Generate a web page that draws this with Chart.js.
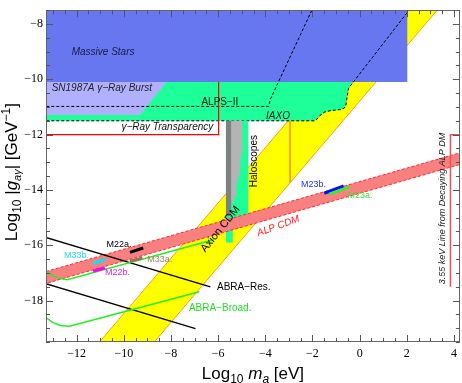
<!DOCTYPE html>
<html><head><meta charset="utf-8">
<script src="https://cdn.jsdelivr.net/npm/chart.js@4.4.1/dist/chart.umd.min.js"></script>
<style>html,body{margin:0;padding:0;background:#fff}canvas{display:block}</style>
</head><body>
<canvas id="c" width="462" height="383"></canvas>
<script>
// ---------- tick labels ----------
const xTicks = [-12,-10,-8,-6,-4,-2,0,2,4];
const yTicks = [-18,-16,-14,-12,-10,-8];

// ---------- excluded / projected regions (log10 m [eV], log10 g [GeV^-1]) ----------
const massiveStars = [[-13.5,-10.1],[2.02,-10.1],[2.02,-7],[-13.5,-7]];
const sn1987a      = [[-13.5,-10.1],[-8.19,-10.1],[-9.32,-11.29],[-13.5,-11.29]];
const iaxoCurve    = [[-13.5,-11.5],[-1.92,-11.5],[-1.80,-11.43],[-1.71,-11.33],[-1.50,-11.19],[-1.22,-11.13],[-0.79,-11.09],[-0.65,-11.04],[-0.58,-10.93],[-0.55,-10.73],[-0.47,-10.32],[2.55,-7.0]];
const iaxoRegion   = iaxoCurve.concat([[-13.5,-7.0]]);
const alpsII       = [[-13.5,-10.98],[-3.85,-10.98],[-3.80,-10.75],[-1.81,-7.1]];
const qcdBand      = [[-11.53,-20],[1.47,-7],[3.79,-7],[-9.21,-20]];
const qcdCut       = [[-2.95,-11.5],[-2.95,-13.74]];
const gammaTransp  = [[-13.5,-12.0],[-5.98,-12.0],[-5.98,-10.1]];
const haloGreen    = [[-5.67,-11.5],[-4.72,-11.5],[-4.72,-14.95],[-5.0,-14.95],[-5.0,-15.1],[-5.38,-15.2],[-5.38,-15.9],[-5.67,-15.9]];
const haloDark     = [[-5.67,-11.5],[-5.45,-11.5],[-5.45,-14.95],[-5.67,-14.95]];
const haloLight    = [[-5.45,-11.5],[-4.97,-11.5],[-4.97,-12.6],[-5.05,-12.9],[-5.08,-13.4],[-5.2,-13.7],[-5.25,-14.2],[-5.35,-14.4],[-5.45,-14.5]];
const alpCdmBand   = [[-13.5,-17.0],[4.5,-12.6],[4.5,-13.02],[-13.5,-17.43]];
const abraResUpper = [[-13.5,-15.67],[-6.33,-17.51]];
const abraResLower = [[-13.5,-17.34],[-6.96,-19.02]];
const abraBroadUpper = [[-13.5,-16.85],[-13.3,-16.94],[-13.0,-17.1],[-12.7,-17.2],[-12.4,-17.25],[-6.2,-15.8]];
const abraBroadLower = [[-13.5,-18.5],[-13.3,-18.62],[-13.0,-18.8],[-12.7,-18.9],[-12.3,-18.93],[-6.8,-17.68]];
const m22a = [[-9.74,-16.26],[-9.18,-16.10]];
const m33a = [[-9.74,-16.58],[-9.21,-16.46]];
const m33b = [[-11.3,-16.65],[-10.77,-16.51]];
const m22b = [[-11.3,-16.94],[-10.8,-16.82]];
const m23b = [[-1.5,-14.12],[-0.68,-13.85]];
const m23a = [[-1.29,-14.15],[-0.44,-13.9]];
const line355 = [[3.85,-17.5],[3.85,-12.0],[4.6,-12.0]];

const SANS = '"Liberation Sans", Arial, sans-serif';
const SERIF = '"Liberation Serif", "Times New Roman", serif';

// text labels: position in data coordinates
const textLabels = [
  {t:'Massive Stars', x:-12.21, y:-9.03, f:'italic 10px '+SANS, c:'#1a1a40'},
  {t:'SN1987A \u03b3\u2212Ray Burst', x:-13.06, y:-10.32, f:'italic 10px '+SANS, c:'#222'},
  {t:'ALPS\u2212II', x:-6.71, y:-10.82, f:'10px '+SANS, c:'#111'},
  {t:'\u03b3\u2212Ray Transparency', x:-10.10, y:-11.73, f:'italic 10px '+SANS, c:'#111'},
  {t:'IAXO', x:-3.97, y:-11.33, f:'italic 10px '+SANS, c:'#111'},
  {t:'Haloscopes', x:-4.46, y:-12.96, f:'10px '+SANS, c:'#000', a:-90, al:'center'},
  {t:'Axion CDM', x:-5.90, y:-15.42, f:'11px '+SANS, c:'#000', a:-51, al:'center'},
  {t:'ALP CDM', x:-3.45, y:-15.31, f:'italic 10px '+SANS, c:'#ff2020', a:-20, al:'center'},
  {t:'M23b.', x:-2.49, y:-13.80, f:'9px '+SANS, c:'#2030e8'},
  {t:'M23a.', x:-0.52, y:-14.20, f:'9px '+SANS, c:'#3ce03c'},
  {t:'M22a.', x:-10.73, y:-15.99, f:'9px '+SANS, c:'#000'},
  {t:'M33a.', x:-9.01, y:-16.53, f:'9px '+SANS, c:'#a08060'},
  {t:'M33b.', x:-12.54, y:-16.38, f:'9px '+SANS, c:'#20e0f0'},
  {t:'M22b.', x:-10.80, y:-16.99, f:'9px '+SANS, c:'#e020e0'},
  {t:'ABRA\u2212Res.', x:-6.05, y:-17.53, f:'10px '+SANS, c:'#000'},
  {t:'ABRA\u2212Broad.', x:-7.24, y:-18.28, f:'10px '+SANS, c:'#22dd22'},
  {t:'3.55 keV Line from Decaying ALP DM', x:3.51, y:-14.67, f:'italic 9px '+SANS, c:'#222', a:-90, al:'center'}
];

const pts = a => a.map(p => ({x:p[0], y:p[1]}));
const layers = []; // bottom -> top
function poly(d, bg, bc, bw, dash){ layers.push({data:pts(d), fill:'shape', backgroundColor:bg, borderColor:bc||'rgba(0,0,0,0)', borderWidth:bw||0, borderDash:dash||[], pointRadius:0, tension:0}); }
function line(d, c, w, dash){ layers.push({data:pts(d), fill:false, borderColor:c, borderWidth:w, borderDash:dash||[], pointRadius:0, tension:0, borderCapStyle:'butt'}); }

poly(qcdBand, '#ffff00', '#ff9a1a', 1);
line(qcdCut, '#ff9a1a', 1);
poly(iaxoRegion, '#1fff99');
poly(sn1987a, '#b0b0ff');
poly(massiveStars, '#6677f0');
line(alpsII, '#000', 1, [3,2]);
line(iaxoCurve, '#000', 1, [3,2]);
line(gammaTransp, '#ff0000', 1.2);
poly(haloGreen, '#1fff99');
poly(haloLight, '#b4b4b4');
poly(haloDark, '#808080');
poly(alpCdmBand, '#f88080', '#ff2a2a', 1, [3,2]);
line(abraResUpper, '#000', 1.3);
line(abraResLower, '#000', 1.3);
line(abraBroadUpper, '#22ee22', 1.5);
line(abraBroadLower, '#22ee22', 1.5);
line(m22a, '#000', 3);
line(m33a, '#9a7250', 3);
line(m33b, '#00e8ff', 3);
line(m22b, '#ff00ff', 3);
line(m23b, '#0010ff', 3);
line(m23a, '#33ee33', 3);
line(line355, '#f05050', 1.5);
layers.forEach((d,i) => d.order = layers.length - i);

function richWidth(ctx, segs){ let w=0; segs.forEach(s=>{ctx.font=s.f; w+=ctx.measureText(s.t).width;}); return w; }
function drawRich(ctx, segs, cx, by){
  let w = richWidth(ctx, segs); let x = cx - w/2;
  segs.forEach(s=>{ ctx.font=s.f; ctx.textAlign='left'; ctx.textBaseline='alphabetic'; ctx.fillText(s.t, x, by + (s.dy||0)); x += ctx.measureText(s.t).width; });
}

const decor = {
  id:'decor',
  afterDatasetsDraw(chart){
    const {ctx, chartArea:a, scales:{x, y}} = chart;
    ctx.save();
    // labels
    textLabels.forEach(L=>{
      ctx.save();
      ctx.font = L.f; ctx.fillStyle = L.c;
      ctx.translate(x.getPixelForValue(L.x), y.getPixelForValue(L.y));
      if (L.a) ctx.rotate(L.a*Math.PI/180);
      ctx.textAlign = L.al || 'left'; ctx.textBaseline = 'middle';
      ctx.fillText(L.t, 0, 0);
      ctx.restore();
    });
    // frame
    ctx.strokeStyle = '#666'; ctx.lineWidth = 1;
    ctx.strokeRect(Math.round(a.left)+0.5, Math.round(a.top)+0.5, Math.round(a.right-a.left)-1, Math.round(a.bottom-a.top)-1);
    // inward ticks
    ctx.strokeStyle = '#555';
    ctx.beginPath();
    for (let v=-13; v<=4.001; v+=0.5){
      const px = Math.round(x.getPixelForValue(v))+0.5; const L = (Math.abs(v%2)<1e-6)?7:4;
      ctx.moveTo(px, a.bottom); ctx.lineTo(px, a.bottom-L);
      ctx.moveTo(px, a.top); ctx.lineTo(px, a.top+L);
    }
    for (let v=-19.5; v<=-7.5; v+=0.5){
      const py = Math.round(y.getPixelForValue(v))+0.5; const L = (Math.abs(v%2)<1e-6)?7:4;
      ctx.moveTo(a.left, py); ctx.lineTo(a.left+L, py);
      ctx.moveTo(a.right, py); ctx.lineTo(a.right-L, py);
    }
    ctx.stroke();
    // axis titles
    ctx.fillStyle = '#000';
    const F = '17px '+SANS, Fi = 'italic 17px '+SANS, Fs = '12px '+SANS, Fsi = 'italic 11px '+SANS;
    drawRich(ctx, [{t:'Log',f:F},{t:'10',f:Fs,dy:4},{t:' ',f:F},{t:'m',f:Fi},{t:'a',f:'italic 12px '+SANS,dy:4},{t:' [eV]',f:F}], (a.left+a.right)/2, 379);
    ctx.save();
    ctx.translate(17, (a.top+a.bottom)/2 - 4);
    ctx.rotate(-Math.PI/2);
    drawRich(ctx, [{t:'Log',f:F},{t:'10',f:Fs,dy:4},{t:' |',f:F},{t:'g',f:Fi},{t:'a\u03b3',f:Fsi,dy:4},{t:'| [GeV',f:F},{t:'\u22121',f:Fs,dy:-7},{t:']',f:F}], 0, 0);
    ctx.restore();
    ctx.restore();
  }
};

const fmt = v => (v<0?'\u2212':'') + Math.abs(v);

new Chart(document.getElementById('c'), {
  type:'line',
  data:{datasets:layers},
  options:{
    responsive:false, animation:false, events:[],
    layout:{padding:{top:6, right:1, left:0, bottom:0}},
    plugins:{legend:{display:false}, tooltip:{enabled:false}},
    scales:{
      x:{type:'linear', min:-13.3, max:4.25,
         afterFit(s){ s.height = 41; },
         afterBuildTicks(s){ s.ticks = xTicks.map(v=>({value:v})); },
         grid:{display:false, drawTicks:false}, border:{display:false},
         ticks:{padding:5, color:'#000', font:{family:SERIF, size:12}, callback:fmt, maxRotation:0, autoSkip:false}},
      y:{type:'linear', min:-19.5, max:-7.5,
         afterFit(s){ s.width = 46; },
         afterBuildTicks(s){ s.ticks = yTicks.map(v=>({value:v})); },
         grid:{display:false, drawTicks:false}, border:{display:false},
         ticks:{padding:3, color:'#000', font:{family:SERIF, size:12}, callback:fmt, autoSkip:false}}
    }
  },
  plugins:[decor]
});
</script>
</body></html>
